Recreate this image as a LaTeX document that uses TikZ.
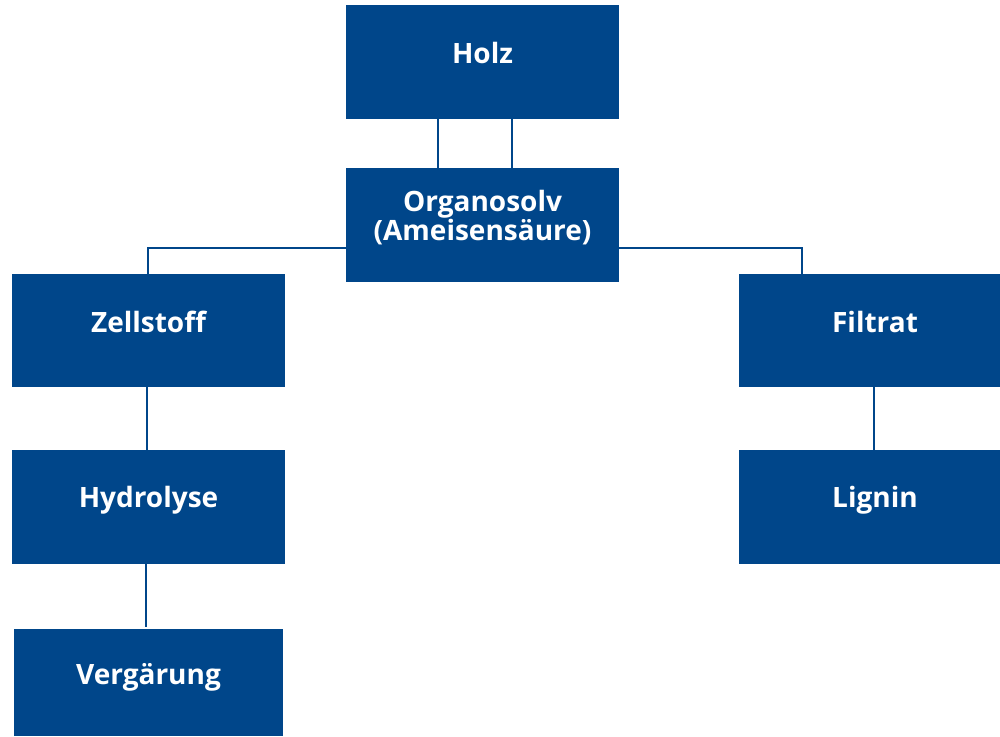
\documentclass[tikz,border=0pt]{standalone}
\usepackage{fontspec}
\setmainfont{Open Sans}
\definecolor{boxblue}{RGB}{0,70,138}
\begin{document}
\begin{tikzpicture}[x=1pt,y=-1pt,
  box/.style={fill=boxblue, draw=none, inner sep=0pt},
  lbl/.style={text=white, font=\fontsize{28}{31}\selectfont\bfseries, align=center},
  conn/.style={draw=boxblue, line width=2.2pt}]
\useasboundingbox (0,0) rectangle (1000,736);
% boxes
\node[box, minimum width=273pt, minimum height=114pt] (holz) at (482.5,62) {};
\node[box, minimum width=273pt, minimum height=114pt] (org) at (482.5,225) {};
\node[box, minimum width=273pt, minimum height=113pt] (zell) at (148.5,330.5) {};
\node[box, minimum width=261pt, minimum height=113pt] (filt) at (869.5,330.5) {};
\node[box, minimum width=273pt, minimum height=114pt] (hyd) at (148.5,507) {};
\node[box, minimum width=261pt, minimum height=114pt] (lig) at (869.5,507) {};
\node[box, minimum width=269pt, minimum height=107pt] (verg) at (148.5,682.5) {};
% labels
\node[lbl] (tholz) at (482.5,53) {Holz};
\node[lbl] (torg) at (482.5,218) {Organosolv\\[-2pt](Ameisensäure)};
\node[lbl] (tzell) at (148.5,322) {Zellstoff};
\node[lbl] (tfilt) at (875,322) {Filtrat};
\node[lbl] (thyd) at (148.5,500) {Hydrolyse};
\node[lbl] (tlig) at (875,500) {Lignin};
\node[lbl] (tverg) at (148.5,677) {Vergärung};
% connectors
\coordinate (vend) at (146,627);
\draw[conn] (holz.south -| 438,0) -- (org.north -| 438,0);
\draw[conn] (holz.south -| 512,0) -- (org.north -| 512,0);
\draw[conn] (org.west |- 0,248) -| (zell.north -| 148,0);
\draw[conn] (org.east |- 0,248) -| (filt.north -| 802,0);
\draw[conn] (zell.south -| 147,0) -- (hyd.north -| 147,0);
\draw[conn] (hyd.south -| vend) -- (vend);
\draw[conn] (filt.south -| 874,0) -- (lig.north -| 874,0);
\end{tikzpicture}
\end{document}
